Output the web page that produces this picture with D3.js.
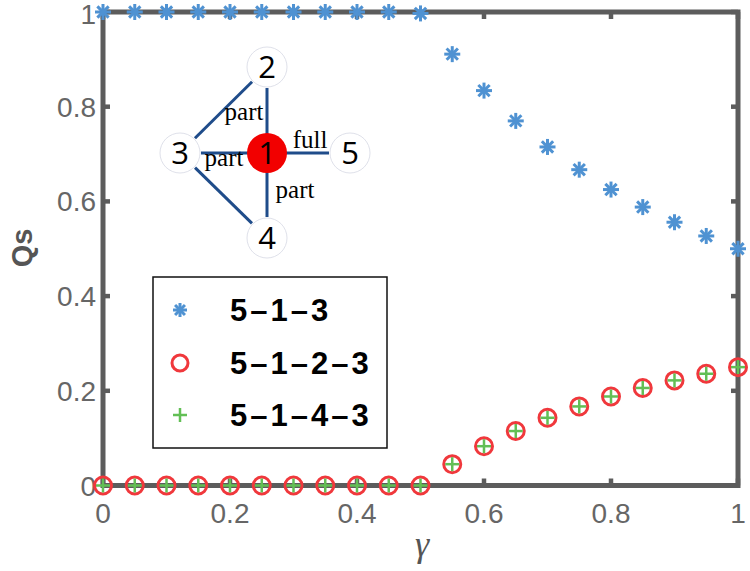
<!DOCTYPE html>
<html>
<head>
<meta charset="utf-8">
<style>
    body { margin: 0; background: #fff; }
    svg { display: block; }
</style>
</head>
<body>
<svg id="chart" width="750" height="571"></svg>
<script src="https://cdn.jsdelivr.net/npm/d3@7"></script>
<script>
    // gamma values along x
    const gammas = [0, 0.05, 0.1, 0.15, 0.2, 0.25, 0.3, 0.35, 0.4, 0.45, 0.5,
                    0.55, 0.6, 0.65, 0.7, 0.75, 0.8, 0.85, 0.9, 0.95, 1]
    // Qs for each path
    const q513 = [1, 1, 1, 1, 1, 1, 1, 1, 1, 1, 0.997,
                  0.911, 0.834, 0.770, 0.715, 0.667, 0.625, 0.588, 0.556, 0.527, 0.5]
    const q5123 = [0, 0, 0, 0, 0, 0, 0, 0, 0, 0, 0,
                   0.045, 0.083, 0.115, 0.143, 0.167, 0.188, 0.206, 0.222, 0.236, 0.25]
    const q5143 = [0, 0, 0, 0, 0, 0, 0, 0, 0, 0, 0,
                   0.045, 0.083, 0.115, 0.143, 0.167, 0.188, 0.206, 0.222, 0.236, 0.25]
    const seriesNames = ["5\u20131\u20133", "5\u20131\u20132\u20133", "5\u20131\u20134\u20133"]
    const xTicks = [0, 0.2, 0.4, 0.6, 0.8, 1]
    const yTicks = [0, 0.2, 0.4, 0.6, 0.8, 1]

    // inset network
    const nodeIds = ["1", "2", "3", "4", "5"]
    const links = [["2", "1"], ["3", "1"], ["4", "1"], ["5", "1"], ["3", "2"], ["3", "4"]]
    const linkLabels = ["part", "part", "part", "full"]

    let svg = d3.select("#chart")
    let axisColor = "#5c5c5c"

    let x = d3.scaleLinear().domain([0, 1]).range([103, 738])
    let y = d3.scaleLinear().domain([0, 1]).range([485.5, 12])

    // tick labels
    svg.selectAll(".xl").data(xTicks).enter().append("text")
        .attr("x", d => x(d)).attr("y", 523)
        .attr("text-anchor", "middle")
        .attr("font-family", "Liberation Sans, Arial, sans-serif")
        .attr("font-size", 28).attr("fill", "#666")
        .text(d => d3.format("~g")(d))

    svg.selectAll(".yl").data(yTicks).enter().append("text")
        .attr("x", 96).attr("y", d => Math.max(y(d) + 10, 24))
        .attr("text-anchor", "end")
        .attr("font-family", "Liberation Sans, Arial, sans-serif")
        .attr("font-size", 28).attr("fill", "#666")
        .text(d => d3.format("~g")(d))

    // ticks, inside on all four sides
    let tk = 7
    let ticks = svg.append("g").attr("stroke", axisColor).attr("stroke-width", 4.5)
    xTicks.forEach(t => {
        ticks.append("line").attr("x1", x(t)).attr("x2", x(t)).attr("y1", y(0)).attr("y2", y(0) - tk)
        ticks.append("line").attr("x1", x(t)).attr("x2", x(t)).attr("y1", y(1)).attr("y2", y(1) + tk)
    })
    yTicks.forEach(t => {
        ticks.append("line").attr("x1", x(0)).attr("x2", x(0) + tk).attr("y1", y(t)).attr("y2", y(t))
        ticks.append("line").attr("x1", x(1)).attr("x2", x(1) - tk).attr("y1", y(t)).attr("y2", y(t))
    })

    svg.append("rect")
        .attr("x", x(0)).attr("y", y(1))
        .attr("width", x(1) - x(0)).attr("height", y(0) - y(1))
        .attr("fill", "none").attr("stroke", axisColor).attr("stroke-width", 5)

    // axis labels
    svg.append("text")
        .attr("x", 422).attr("y", 556)
        .attr("text-anchor", "middle")
        .attr("font-family", "Liberation Serif, Times New Roman, serif")
        .attr("font-style", "italic")
        .attr("font-size", 36).attr("fill", "#555")
        .text("\u03b3")

    svg.append("text")
        .attr("transform", "translate(32,248) rotate(-90)")
        .attr("text-anchor", "middle")
        .attr("font-family", "Liberation Sans, Arial, sans-serif")
        .attr("font-weight", "bold")
        .attr("font-size", 29).attr("fill", "#555")
        .text("Qs")

    // markers
    let blue = "#4f92d2", red = "#f0383c", green = "#62bf55"

    function star(g, r) {
        [0, 45, 90, 135].forEach(a => {
            let rad = a * Math.PI / 180
            g.append("line")
                .attr("x1", -r * Math.cos(rad)).attr("y1", -r * Math.sin(rad))
                .attr("x2", r * Math.cos(rad)).attr("y2", r * Math.sin(rad))
        })
    }
    function plus(g, r) {
        g.append("line").attr("x1", -r).attr("x2", r).attr("y1", 0).attr("y2", 0)
        g.append("line").attr("x1", 0).attr("x2", 0).attr("y1", -r).attr("y2", r)
    }

    let pts513 = gammas.map((g, i) => ({ g: g, q: q513[i] }))
    let pts5123 = gammas.map((g, i) => ({ g: g, q: q5123[i] }))
    let pts5143 = gammas.map((g, i) => ({ g: g, q: q5143[i] }))

    svg.append("g").selectAll("g").data(pts513).enter().append("g")
        .attr("transform", d => `translate(${x(d.g)},${y(d.q)})`)
        .attr("stroke", blue).attr("stroke-width", 3)
        .each(function () { star(d3.select(this), 8) })

    svg.append("g").selectAll("circle").data(pts5123).enter().append("circle")
        .attr("cx", d => x(d.g)).attr("cy", d => y(d.q)).attr("r", 8.5)
        .attr("fill", "none").attr("stroke", red).attr("stroke-width", 3)

    svg.append("g").selectAll("g").data(pts5143).enter().append("g")
        .attr("transform", d => `translate(${x(d.g)},${y(d.q)})`)
        .attr("stroke", green).attr("stroke-width", 2.5)
        .each(function () { plus(d3.select(this), 7) })

    // legend
    let leg = svg.append("g")
    leg.append("rect")
        .attr("x", 153).attr("y", 277).attr("width", 234).attr("height", 171)
        .attr("fill", "#fff").attr("stroke", "#111").attr("stroke-width", 1.5)
    let rowY = [310, 363, 415]
    seriesNames.forEach((name, i) => {
        let m = leg.append("g").attr("transform", `translate(180,${rowY[i]})`)
        if (i === 0) { m.attr("stroke", blue).attr("stroke-width", 3); star(m, 7) }
        if (i === 1) { m.append("circle").attr("r", 8).attr("fill", "none").attr("stroke", red).attr("stroke-width", 3) }
        if (i === 2) { m.attr("stroke", green).attr("stroke-width", 2.5); plus(m, 7) }
        leg.append("text")
            .attr("x", 230).attr("y", rowY[i] + 11)
            .attr("font-family", "Liberation Sans, Arial, sans-serif")
            .attr("font-weight", "bold").attr("font-size", 31)
            .attr("letter-spacing", 3)
            .attr("fill", "#000")
            .text(name)
    })

    // inset network layout
    let layout = { "1": [267, 153], "2": [267, 67], "3": [180, 153], "4": [267, 238], "5": [350, 153] }
    let nodeR = 20
    let net = svg.append("g")

    net.selectAll("line").data(links).enter().append("line")
        .each(function (d) {
            let a = layout[d[0]], b = layout[d[1]]
            let dx = b[0] - a[0], dy = b[1] - a[1], len = Math.hypot(dx, dy)
            let ux = dx / len, uy = dy / len
            let gapA = nodeR + 1, gapB = d[1] === "1" ? nodeR - 2 : nodeR + 1
            d3.select(this)
                .attr("x1", a[0] + ux * gapA).attr("y1", a[1] + uy * gapA)
                .attr("x2", b[0] - ux * gapB).attr("y2", b[1] - uy * gapB)
        })
        .attr("stroke", "#1f4c8a").attr("stroke-width", 3)

    net.selectAll("circle").data(nodeIds).enter().append("circle")
        .attr("cx", d => layout[d][0]).attr("cy", d => layout[d][1])
        .attr("r", nodeR)
        .attr("fill", d => d === "1" ? "#f20000" : "#fff")
        .attr("stroke", d => d === "1" ? "none" : "#dfe1ea").attr("stroke-width", 1)

    net.selectAll(".nl").data(nodeIds).enter().append("text")
        .attr("x", d => layout[d][0]).attr("y", d => layout[d][1] + 11)
        .attr("text-anchor", "middle")
        .attr("font-family", "Open Sans, DejaVu Sans, sans-serif")
        .attr("font-size", 31).attr("fill", "#000")
        .text(d => d)

    let labelPos = [[244, 120], [224, 166], [295, 198], [310, 148]]
    linkLabels.forEach((t, i) => {
        net.append("text")
            .attr("x", labelPos[i][0]).attr("y", labelPos[i][1])
            .attr("text-anchor", "middle")
            .attr("font-family", "Liberation Serif, Times New Roman, serif")
            .attr("font-size", 25).attr("fill", "#000")
            .text(t)
    })
</script>
</body>
</html>
